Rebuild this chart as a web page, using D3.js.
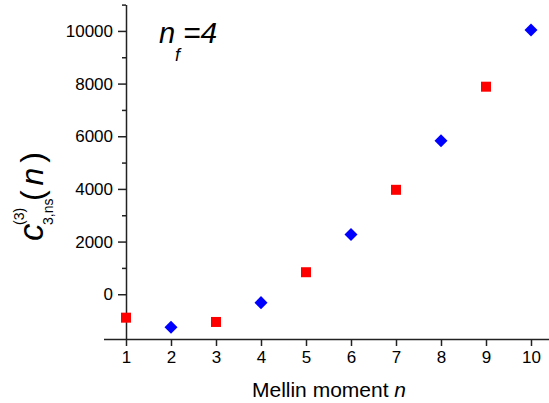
<!DOCTYPE html>
<html>
<head>
<meta charset="utf-8">
<script src="https://cdn.jsdelivr.net/npm/d3@7"></script>
<style>
  html, body { margin: 0; padding: 0; background: #fff; }
  svg { display: block; font-family: Arial, "Liberation Sans", sans-serif; }
</style>
</head>
<body>
<svg id="chart" width="549" height="403"></svg>
<script>
// Data
const oddMoments = [1, 3, 5, 7, 9];
const oddValues = [-890, -1053, 836, 3966, 7882];
const evenMoments = [2, 4, 6, 8, 10];
const evenValues = [-1255, -319, 2266, 5829, 10038];
const xTicks = [1, 2, 3, 4, 5, 6, 7, 8, 9, 10];
const yMajorTicks = [0, 2000, 4000, 6000, 8000, 10000];
const yMinorTicks = [-1000, 1000, 3000, 5000, 7000, 9000, 11000];

const svg = d3.select("#chart");
const axisX0 = 126, axisY0 = 339;

const x = d3.scaleLinear().domain([0.5, 10.5]).range([103.5, 553.5]);
const y = d3.scaleLinear().domain([-1700, 11000]).range([339, 4.6]);

const axisColor = "#222";

// X axis
const gx = svg.append("g").attr("transform", `translate(0,${axisY0})`)
  .call(d3.axisBottom(x).tickValues(xTicks).tickSizeInner(7).tickSizeOuter(0).tickPadding(5).tickFormat(d3.format("d")));
gx.select(".domain").attr("stroke", axisColor).attr("stroke-width", 1.5);
gx.selectAll(".tick line").attr("stroke", axisColor).attr("stroke-width", 1.5);
gx.selectAll(".tick text").attr("font-size", 17).attr("fill", "#000")
  .attr("font-family", "Arial, 'Liberation Sans', sans-serif");

// Y axis minor ticks
const gyMinor = svg.append("g").attr("transform", `translate(${axisX0},0)`)
  .call(d3.axisLeft(y).tickValues(yMinorTicks).tickSizeInner(4).tickSizeOuter(0).tickFormat(""));
gyMinor.select(".domain").remove();
gyMinor.selectAll(".tick line").attr("stroke", axisColor).attr("stroke-width", 1.5);

// Y axis major
const gy = svg.append("g").attr("transform", `translate(${axisX0},0)`)
  .call(d3.axisLeft(y).tickValues(yMajorTicks).tickSizeInner(8).tickSizeOuter(0).tickPadding(5).tickFormat(d3.format("d")));
gy.select(".domain").attr("stroke", axisColor).attr("stroke-width", 1.5);
gy.selectAll(".tick line").attr("stroke", axisColor).attr("stroke-width", 1.5);
gy.selectAll(".tick text").attr("font-size", 17).attr("fill", "#000")
  .attr("font-family", "Arial, 'Liberation Sans', sans-serif");

// Markers: odd n red squares, even n blue diamonds
const oddData = oddMoments.map((n, i) => ({ n, v: oddValues[i] }));
const evenData = evenMoments.map((n, i) => ({ n, v: evenValues[i] }));

svg.append("g").selectAll("rect").data(oddData).join("rect")
  .attr("x", d => x(d.n) - 5)
  .attr("y", d => y(d.v) - 5)
  .attr("width", 10).attr("height", 10)
  .attr("fill", "#ff0000");

const diamond = d3.symbol().type(d3.symbolSquare).size(85);
svg.append("g").selectAll("path").data(evenData).join("path")
  .attr("d", diamond)
  .attr("transform", d => `translate(${x(d.n)},${y(d.v)}) rotate(45)`)
  .attr("fill", "#0000ff");

// X axis title
const xt = svg.append("text").attr("x", 329).attr("y", 397)
  .attr("text-anchor", "middle").attr("font-size", 21).attr("fill", "#000");
xt.append("tspan").text("Mellin moment ");
xt.append("tspan").attr("font-style", "italic").text("n");

// Annotation n_f=4
const ann = svg.append("g").attr("fill", "#000").attr("font-style", "italic");
ann.append("text").attr("x", 159).attr("y", 43).attr("font-size", 29).text("n");
ann.append("text").attr("x", 175).attr("y", 61).attr("font-size", 18).text("f");
ann.append("text").attr("x", 183).attr("y", 43).attr("font-size", 30).text("=4");

// Y axis title (rotated)
const yl = svg.append("g").attr("transform", "translate(43,241) rotate(-90)");
yl.append("text").attr("x", 0).attr("y", 0)
  .attr("font-size", 35).attr("font-style", "italic").attr("fill", "#000").text("c");
yl.append("text").attr("x", 16).attr("y", -19)
  .attr("font-size", 14).attr("fill", "#000").text("(3)");
yl.append("text").attr("x", 16).attr("y", 10)
  .attr("font-size", 14).attr("fill", "#000").text("3,ns");
yl.append("text").attr("x", 40).attr("y", 0)
  .attr("font-size", 32).attr("fill", "#000")
  .attr("textLength", 49).attr("lengthAdjust", "spacing")
  .html('(<tspan font-style="italic">n</tspan>)');
</script>
</body>
</html>
